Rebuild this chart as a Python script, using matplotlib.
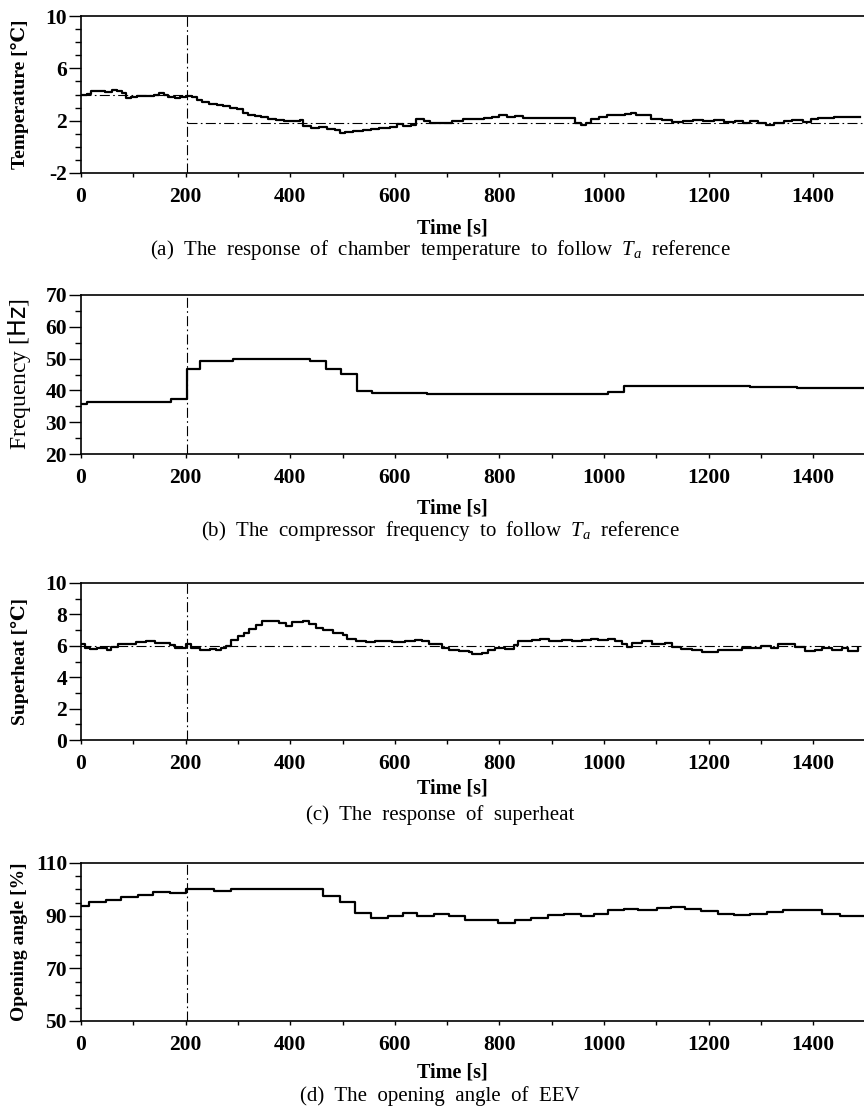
import matplotlib
matplotlib.use('Agg')
import matplotlib.pyplot as plt
from matplotlib.ticker import MultipleLocator

plt.rcParams['font.family'] = ['Liberation Serif', 'DejaVu Serif']
plt.rcParams['mathtext.fontset'] = 'custom'
plt.rcParams['mathtext.rm'] = 'Liberation Serif'
plt.rcParams['mathtext.it'] = 'Liberation Serif:italic'
plt.rcParams['mathtext.sf'] = 'DejaVu Sans'
plt.rcParams['axes.unicode_minus'] = False

# (a) chamber temperature [C]
temp_t = [0, 12, 20, 45, 60, 68, 78, 86, 95, 108,
          125, 140, 150, 158, 166, 180, 190, 200, 212, 222,
          232, 245, 260, 272, 285, 298, 310, 320, 332, 345,
          358, 372, 388, 402, 418, 425, 440, 455, 470, 485,
          495, 505, 520, 540, 555, 570, 590, 604, 615, 630,
          640, 655, 668, 690, 710, 730, 750, 770, 785, 800,
          815, 830, 845, 870, 900, 935, 945, 955, 965, 975,
          990, 1005, 1020, 1040, 1052, 1062, 1075, 1090, 1110, 1130,
          1150, 1170, 1190, 1210, 1230, 1250, 1265, 1280, 1295, 1310,
          1325, 1345, 1360, 1380, 1395, 1410, 1440, 1470, 1490]
temp_v = [4.0, 4.05, 4.25, 4.2, 4.35, 4.25, 4.1, 3.75, 3.8, 3.9,
          3.85, 3.95, 4.1, 3.95, 3.8, 3.7, 3.8, 3.9, 3.8, 3.55,
          3.45, 3.3, 3.2, 3.1, 3.0, 2.9, 2.6, 2.4, 2.35, 2.25,
          2.15, 2.05, 2.0, 1.95, 2.05, 1.6, 1.45, 1.5, 1.4, 1.25,
          1.05, 1.15, 1.2, 1.25, 1.35, 1.45, 1.5, 1.75, 1.6, 1.65,
          2.1, 1.95, 1.85, 1.8, 1.95, 2.1, 2.15, 2.2, 2.3, 2.4,
          2.3, 2.35, 2.2, 2.2, 2.2, 2.2, 1.85, 1.7, 1.85, 2.1,
          2.3, 2.4, 2.45, 2.5, 2.6, 2.4, 2.45, 2.15, 2.05, 1.9,
          1.95, 2.05, 1.95, 2.05, 1.9, 2.0, 1.85, 1.95, 1.8, 1.7,
          1.8, 1.95, 2.05, 1.9, 2.1, 2.2, 2.25, 2.3, 2.3]
temp_ref = [4.0, 1.85]
temp_ticks = [-2, 2, 6, 10]

# (b) compressor frequency [Hz]
freq_t = [0, 12, 172, 203, 228, 290, 437, 468, 497, 528,
          557, 662, 1007, 1039, 1280, 1369, 1500]
freq_v = [35.7, 36.4, 37.2, 46.6, 49.2, 50.0, 49.4, 46.8, 45.3, 39.8,
          39.2, 39.0, 39.5, 41.4, 41.2, 40.6, 40.6]
freq_ticks = [20, 30, 40, 50, 60, 70]

# (c) superheat [C]
sh_t = [0, 8, 17, 30, 49, 58, 71, 87, 106, 125,
        141, 157, 170, 179, 195, 201, 211, 227, 246, 258,
        268, 277, 287, 300, 312, 322, 335, 347, 366, 379,
        392, 404, 424, 436, 449, 462, 481, 500, 509, 525,
        544, 563, 582, 595, 620, 639, 652, 665, 677, 690,
        703, 722, 741, 747, 766, 779, 792, 811, 827, 836,
        862, 878, 894, 919, 938, 957, 976, 989, 1008, 1021,
        1034, 1043, 1053, 1072, 1091, 1117, 1129, 1148, 1168, 1187,
        1206, 1218, 1244, 1263, 1282, 1301, 1320, 1333, 1352, 1365,
        1384, 1403, 1416, 1435, 1454, 1467, 1486]
sh_v = [6.14, 5.89, 5.78, 5.89, 5.76, 5.93, 6.1, 6.14, 6.25, 6.31,
        6.19, 6.19, 6.04, 5.83, 5.85, 6.14, 5.89, 5.76, 5.78, 5.76,
        5.89, 5.97, 6.36, 6.61, 6.82, 7.1, 7.31, 7.58, 7.58, 7.46,
        7.25, 7.52, 7.58, 7.42, 7.16, 6.99, 6.82, 6.67, 6.46, 6.31,
        6.25, 6.31, 6.31, 6.22, 6.31, 6.36, 6.31, 6.1, 6.14, 5.83,
        5.76, 5.68, 5.61, 5.47, 5.51, 5.72, 5.83, 5.81, 6.04, 6.31,
        6.4, 6.46, 6.31, 6.36, 6.31, 6.4, 6.46, 6.36, 6.46, 6.31,
        6.14, 5.93, 6.19, 6.31, 6.1, 6.19, 5.93, 5.8, 5.76, 5.61,
        5.61, 5.72, 5.72, 5.83, 5.89, 5.97, 5.85, 6.1, 6.14, 5.93,
        5.68, 5.76, 5.83, 5.76, 5.89, 5.68, 5.83]
sh_ref = 6.0
sh_ticks = [0, 2, 4, 6, 8, 10]

# (d) EEV opening angle [%]
op_t = [0, 16, 47, 77, 109, 138, 170, 200, 255, 286,
        463, 495, 523, 555, 586, 615, 643, 674, 703, 734,
        798, 829, 861, 892, 923, 955, 981, 1007, 1039, 1065,
        1101, 1128, 1154, 1185, 1217, 1248, 1279, 1311, 1342, 1358,
        1416, 1452, 1500]
op_v = [93.5, 95.1, 95.8, 96.9, 97.7, 98.8, 98.6, 100.2, 99.2, 100.2,
        97.3, 95.1, 91.2, 89.2, 89.9, 90.9, 89.7, 90.6, 89.7, 88.2,
        87.3, 88.5, 89.2, 90.1, 90.7, 89.8, 90.8, 92.1, 92.6, 92.1,
        92.8, 93.3, 92.6, 91.7, 90.7, 90.2, 90.8, 91.3, 92.3, 92.1,
        90.8, 89.8, 89.8]
op_ticks = [50, 70, 90, 110]

t_switch = 203
t_end = 1497

W, H = 864, 1108
fig = plt.figure(figsize=(W / 100, H / 100), dpi=100)

dashdot = (0, (9, 3, 1.5, 3))


def make_axes(top, bottom):
    return fig.add_axes([81 / W, 1 - bottom / H, 1 - 81 / W, (bottom - top) / H])


def style_axes(ax, ticks, minor, ylabel, ylabel_bold=True, ylabel_size=14):
    ax.set_xlim(0, t_end)
    ax.set_ylim(ticks[0], ticks[-1])
    ax.spines['right'].set_visible(False)
    for s in ['left', 'top', 'bottom']:
        ax.spines[s].set_linewidth(1.2)
    ax.xaxis.set_major_locator(MultipleLocator(200))
    ax.xaxis.set_minor_locator(MultipleLocator(100))
    ax.set_yticks(ticks)
    ax.yaxis.set_minor_locator(MultipleLocator(minor))
    ax.tick_params(axis='x', which='both', direction='out', length=3, width=1, pad=7)
    ax.tick_params(axis='y', which='major', direction='out', length=9, width=1, pad=1)
    ax.tick_params(axis='y', which='minor', direction='out', length=4.5, width=1)
    for lab in ax.get_xticklabels() + ax.get_yticklabels():
        lab.set_fontweight('bold')
        lab.set_fontsize(15.5)
    ax.set_ylabel(ylabel, fontsize=ylabel_size,
                  fontweight='bold' if ylabel_bold else 'normal', va='center')
    ax.yaxis.set_label_coords(-61 / 783, 0.5)
    ax.axvline(t_switch, color='black', lw=0.8, ls=dashdot)


def add_below(time_px, cap_px, caption):
    fig.text(452 / W, 1 - time_px / H, 'Time [s]', ha='center', va='center',
             fontsize=14.5, fontweight='bold')
    fig.text(440 / W, 1 - cap_px / H, caption, ha='center', va='center', fontsize=15)


# (a)
ax = make_axes(16, 173)
ax.step(temp_t, temp_v, where='post', color='black', lw=1.6)
ax.hlines(temp_ref[0], 0, t_switch, color='black', lw=0.8, linestyles=[dashdot])
ax.hlines(temp_ref[1], t_switch, t_end, color='black', lw=0.8, linestyles=[dashdot])
style_axes(ax, temp_ticks, 1, 'Temperature [℃]')
add_below(228, 250,
          '(a)  The  response  of  chamber  temperature  to  follow  $T_a$  reference')

# (b)
ax = make_axes(295, 454)
ax.step(freq_t, freq_v, where='post', color='black', lw=1.6)
style_axes(ax, freq_ticks, 5, 'Frequency [$\\mathsf{Hz}$]', ylabel_bold=False,
           ylabel_size=17)
add_below(508, 531,
          '(b)  The  compressor  frequency  to  follow  $T_a$  reference')

# (c)
ax = make_axes(583, 740)
ax.step(sh_t, sh_v, where='post', color='black', lw=1.6)
ax.axhline(sh_ref, color='black', lw=0.8, ls=dashdot)
style_axes(ax, sh_ticks, 1, 'Superheat [℃]')
add_below(789, 815, '(c)  The  response  of  superheat')

# (d)
ax = make_axes(863, 1021)
ax.step(op_t, op_v, where='post', color='black', lw=1.6)
style_axes(ax, op_ticks, 5, 'Opening angle [%]')
add_below(1073, 1096, '(d)  The  opening  angle  of  EEV')

fig.savefig('out.png', dpi=100)
